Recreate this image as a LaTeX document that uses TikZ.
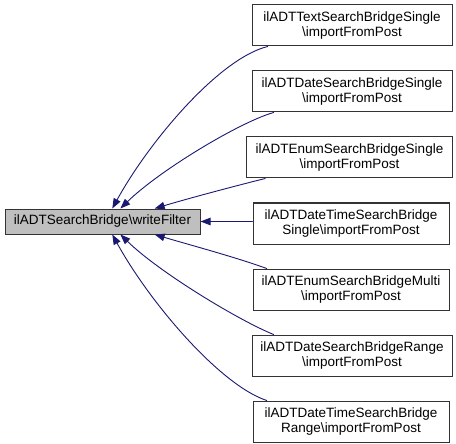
\documentclass[tikz,border=0pt]{standalone}
\usepackage{fontspec}
\setmainfont{Liberation Sans}
\usetikzlibrary{arrows.meta}
\definecolor{edgeblue}{RGB}{25,25,112}
\definecolor{nodegray}{RGB}{191,191,191}
\tikzset{
  every picture/.append style={line cap=round},
  fn box/.style={draw=black!80,line width=1pt,align=center,inner sep=0pt,minimum height=41pt,font=\fontsize{13.5}{15}\selectfont},
  fn main/.style={fn box,fill=nodegray,minimum height=25pt},
  call edge/.style={edgeblue,line width=0.9pt,{Triangle[length=10pt,width=7.5pt]}-}
}

\begin{document}
\begin{tikzpicture}[x=1pt,y=-1pt]
\useasboundingbox (0,0) rectangle (456,444);
\node[fn main,minimum width=195pt] (filter) at (102.5,221.5) {ilADTSearchBridge\textbackslash writeFilter};
\node[fn box,minimum width=200pt] (textsingle) at (352,25.5) {ilADTTextSearchBridgeSingle\\\textbackslash importFromPost};
\node[fn box,minimum width=200pt] (datesingle) at (352,91.5) {ilADTDateSearchBridgeSingle\\\textbackslash importFromPost};
\node[fn box,minimum width=206pt] (enumsingle) at (349.5,157.5) {ilADTEnumSearchBridgeSingle\\\textbackslash importFromPost};
\node[fn box,minimum width=196pt] (dtsingle) at (351,223.5) {ilADTDateTimeSearchBridge\\Single\textbackslash importFromPost};
\node[fn box,minimum width=196pt] (enummulti) at (351,289.5) {ilADTEnumSearchBridgeMulti\\\textbackslash importFromPost};
\node[fn box,minimum width=200pt] (daterange) at (352,355.5) {ilADTDateSearchBridgeRange\\\textbackslash importFromPost};
\node[fn box,minimum width=196pt] (dtrange) at (351,421.5) {ilADTDateTimeSearchBridge\\Range\textbackslash importFromPost};
% callers above
\draw[call edge] (filter.53) .. controls (150,140) and (220,58) .. (textsingle.194);
\draw[call edge] (filter.36) .. controls (160,170) and (240,122) .. (datesingle.195);
\draw[call edge] (filter.14) .. controls (190,198) and (235,186) .. (enumsingle.194);
\draw[call edge] (filter.east) -- (filter.east -| dtsingle.west);
% callers below
\draw[call edge] (filter.-14) .. controls (190,245) and (235,257) .. (enummulti.166);
\draw[call edge] (filter.-36) .. controls (160,273) and (240,321) .. (daterange.165);
\draw[call edge] (filter.-53) .. controls (150,303) and (220,385) .. (dtrange.166);
\end{tikzpicture}
\end{document}
